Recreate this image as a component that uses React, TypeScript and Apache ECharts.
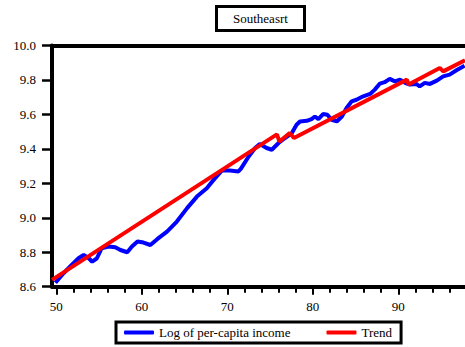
import React, { useEffect, useRef } from "react";
import * as echarts from "echarts";

const titleText = "Southeasrt";
const incomeName = "Log of per-capita income";
const trendName = "Trend";

const xMajorTicks = [50, 60, 70, 80, 90];
const xMinorTicks = [50, 52, 54, 56, 58, 60, 62, 64, 66, 68, 70, 72, 74, 76, 78, 80, 82, 84, 86, 88, 90, 92, 94, 96];

const incomeYears = [
  49.9, 50.85, 51.8, 52.6, 53.2, 53.8, 54.2, 54.75, 55.3, 56.1, 56.9, 57.5, 58.3, 58.85, 59.5,
  60.2, 61.0, 61.8, 62.95, 64.1, 65.3, 66.45, 67.6, 68.4, 69.35, 70.3, 71.3, 71.6, 72.5, 73.25,
  73.8, 74.6, 75.2, 76.0, 76.75, 77.55, 78.1, 78.5, 79.3, 79.85, 80.25, 80.65, 81.2, 81.7, 82.2,
  82.8, 83.4, 83.95, 84.55, 85.1, 85.9, 86.7, 87.25, 87.85, 88.4, 89.0, 89.6, 90.2, 90.8, 91.35,
  92.1, 92.5, 93.1, 93.7, 94.5, 95.25, 96.0, 96.8, 97.75,
];
const incomeValues = [
  8.623, 8.678, 8.726, 8.765, 8.784, 8.765, 8.745, 8.765, 8.823, 8.833, 8.829, 8.813, 8.8, 8.833, 8.862,
  8.856, 8.842, 8.876, 8.92, 8.978, 9.056, 9.123, 9.172, 9.22, 9.274, 9.274, 9.269, 9.285, 9.356, 9.405,
  9.428, 9.405, 9.395, 9.434, 9.463, 9.492, 9.54, 9.559, 9.563, 9.573, 9.588, 9.573, 9.602, 9.598, 9.569,
  9.559, 9.588, 9.637, 9.676, 9.685, 9.705, 9.719, 9.744, 9.779, 9.787, 9.806, 9.792, 9.802, 9.783, 9.773,
  9.777, 9.763, 9.783, 9.777, 9.796, 9.821, 9.831, 9.856, 9.883,
];

const trendYears = [49.5, 75.8, 76.1, 77.3, 77.8, 91.0, 91.2, 94.85, 95.25, 97.8];
const trendValues = [8.64, 9.484, 9.443, 9.492, 9.463, 9.802, 9.773, 9.87, 9.85, 9.914];

const yMin = 8.6;
const yMax = 10.0;
const yStep = 0.2;
const xMin = 49.5;
const xMax = 97.8;

const FONT = "'Liberation Serif', 'Times New Roman', 'DejaVu Serif', serif";

export default function App() {
  const ref = useRef<HTMLDivElement>(null);
  useEffect(() => {
    if (!ref.current) return;
    const chart = echarts.init(ref.current, null, { renderer: "svg" });
    const income = incomeYears.map((x, i) => [x, incomeValues[i]]);
    const trend = trendYears.map((x, i) => [x, trendValues[i]]);
    const baseX = {
      type: "value",
      min: xMin,
      max: xMax,
      gridIndex: 0,
      splitLine: { show: false },
    };
    chart.setOption({
      animation: false,
      backgroundColor: "#ffffff",
      textStyle: { fontFamily: FONT },
      title: {
        text: titleText,
        left: 216,
        top: 6,
        padding: [6, 17, 6, 17],
        borderColor: "#000",
        borderWidth: 3,
        textStyle: { fontFamily: FONT, fontSize: 13, fontWeight: "normal", color: "#000" },
      },
      legend: {
        left: 116,
        top: 322,
        padding: [4, 9, 4, 8],
        itemGap: 36,
        itemWidth: 30,
        itemHeight: 4,
        borderColor: "#000",
        borderWidth: 3,
        icon: "roundRect",
        textStyle: { fontFamily: FONT, fontSize: 13, color: "#000" },
        data: [incomeName, trendName],
      },
      grid: { left: 52, right: 0, top: 45.5, bottom: 60.3 },
      xAxis: [
        {
          ...baseX,
          position: "bottom",
          axisLine: { show: true, lineStyle: { color: "#000", width: 4 } },
          axisTick: { show: true, customValues: xMinorTicks, length: 6, lineStyle: { color: "#000", width: 2 } },
          axisLabel: {
            show: true,
            customValues: xMajorTicks,
            margin: 13,
            fontFamily: FONT,
            fontSize: 13,
            color: "#000",
          },
        },
        {
          ...baseX,
          position: "bottom",
          axisLine: { show: false },
          axisTick: { show: true, customValues: xMajorTicks, length: 8, lineStyle: { color: "#000", width: 2 } },
          axisLabel: { show: false },
        },
        {
          ...baseX,
          position: "top",
          axisLine: { show: true, lineStyle: { color: "#000", width: 4 } },
          axisTick: { show: false },
          axisLabel: { show: false },
        },
      ],
      yAxis: {
        type: "value",
        min: yMin,
        max: yMax,
        interval: yStep,
        splitLine: { show: false },
        axisLine: { show: true, lineStyle: { color: "#000", width: 4 } },
        axisTick: { show: true, length: 10, lineStyle: { color: "#000", width: 2.5 } },
        axisLabel: {
          margin: 16,
          fontFamily: FONT,
          fontSize: 13,
          color: "#000",
          formatter: (v: number) => v.toFixed(1),
        },
      },
      series: [
        {
          name: incomeName,
          type: "line",
          data: income,
          showSymbol: false,
          symbol: "none",
          lineStyle: { color: "#0000ff", width: 4 },
          itemStyle: { color: "#0000ff" },
        },
        {
          name: trendName,
          type: "line",
          data: trend,
          showSymbol: false,
          symbol: "none",
          lineStyle: { color: "#ff0000", width: 4 },
          itemStyle: { color: "#ff0000" },
        },
      ],
    });
    return () => chart.dispose();
  }, []);
  return (
    <div
      ref={ref}
      style={{ position: "fixed", left: 0, top: 0, width: 465, height: 347, background: "#fff" }}
    />
  );
}
